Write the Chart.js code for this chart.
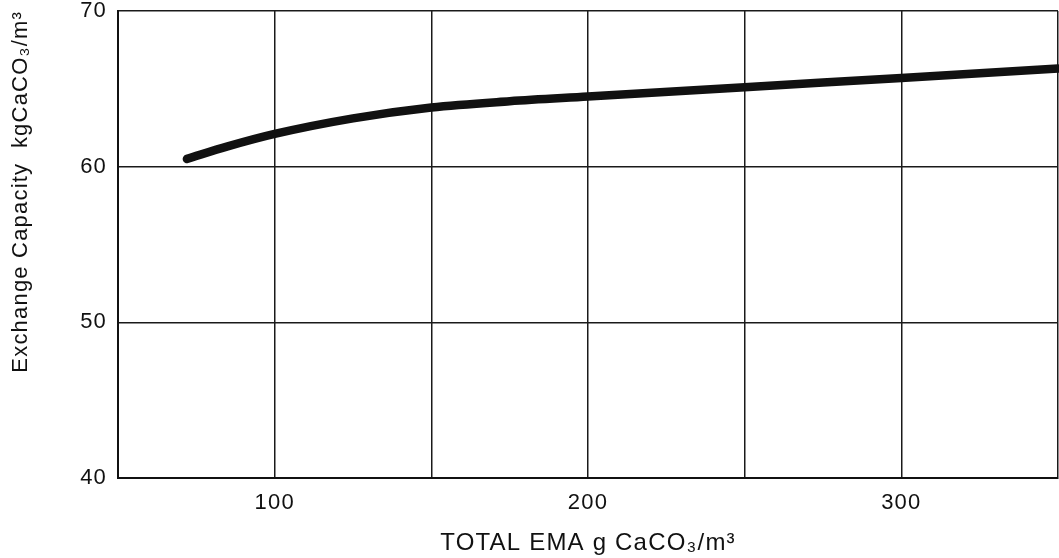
<!DOCTYPE html>
<html>
<head>
<meta charset="utf-8">
<script src="https://cdn.jsdelivr.net/npm/chart.js@4/dist/chart.umd.min.js"></script>
<style>
  body { margin: 0; background: #fff; }
  #wrap { width: 1059px; height: 558px; }
</style>
</head>
<body>
<div id="wrap"><canvas id="ema" width="1059" height="558"></canvas></div>
<script>
// values
var emaTotal = [72, 85, 100, 125, 150, 175, 200, 250, 300, 350];
var capacity = [60.5, 61.3, 62.1, 63.1, 63.8, 64.2, 64.5, 65.1, 65.7, 66.3];
var xLabels = ['100', '200', '300'];
var yLabels = ['40', '50', '60', '70'];

var points = emaTotal.map(function (x, i) { return { x: x, y: capacity[i] }; });

// the scanned lettering is spaced a little wide
var spacing = {
    id: 'spacing',
    beforeUpdate: function (chart) { chart.ctx.letterSpacing = '1.2px'; },
    beforeDraw: function (chart) { chart.ctx.letterSpacing = '1.2px'; }
};

var ctx = document.getElementById('ema').getContext('2d');
var chart = new Chart(ctx, {
    type: 'scatter',
    plugins: [spacing],
    data: {
        datasets: [{
            data: points,
            showLine: true,
            borderColor: '#111',
            borderWidth: 8.5,
            borderCapStyle: 'round',
            cubicInterpolationMode: 'monotone',
            pointRadius: 0,
            clip: false
        }]
    },
    options: {
        responsive: false,
        animation: false,
        layout: { padding: { top: 11, right: 1, left: 3, bottom: 0 } },
        plugins: { legend: { display: false }, tooltip: { enabled: false } },
        scales: {
            x: {
                type: 'linear',
                min: 50,
                max: 350,
                grid: { color: '#1a1a1a', lineWidth: 1.5, drawTicks: false },
                border: { color: '#111', width: 2 },
                afterFit: function (s) { s.height = 80; s.paddingLeft = 0; s.paddingRight = 0; },
                ticks: {
                    stepSize: 50,
                    color: '#111',
                    padding: 12,
                    maxRotation: 0,
                    font: { family: 'Liberation Sans', size: 22 },
                    callback: function (v) {
                        return xLabels.indexOf(String(v)) >= 0 ? String(v) : '';
                    }
                },
                title: {
                    display: true,
                    text: 'TOTAL EMA g CaCO\u2083/m\u00b3',
                    color: '#111',
                    padding: { top: 6, bottom: 0 },
                    font: { family: 'Liberation Sans', size: 24 }
                }
            },
            y: {
                min: 40,
                max: 70,
                grid: { color: '#1a1a1a', lineWidth: 1.5, drawTicks: false },
                border: { color: '#111', width: 2 },
                afterFit: function (s) { s.width = 115; s.paddingTop = 0; s.paddingBottom = 0; },
                ticks: {
                    stepSize: 10,
                    color: '#111',
                    padding: 11,
                    font: { family: 'Liberation Sans', size: 22 },
                    callback: function (v) {
                        return yLabels.indexOf(String(v)) >= 0 ? String(v) : '';
                    }
                },
                title: {
                    display: true,
                    text: 'Exchange Capacity  kgCaCO\u2083/m\u00b3',
                    align: 'end',
                    color: '#111',
                    padding: { top: 5, bottom: 0 },
                    font: { family: 'Liberation Sans', size: 22 }
                }
            }
        }
    }
});
</script>
</body>
</html>
